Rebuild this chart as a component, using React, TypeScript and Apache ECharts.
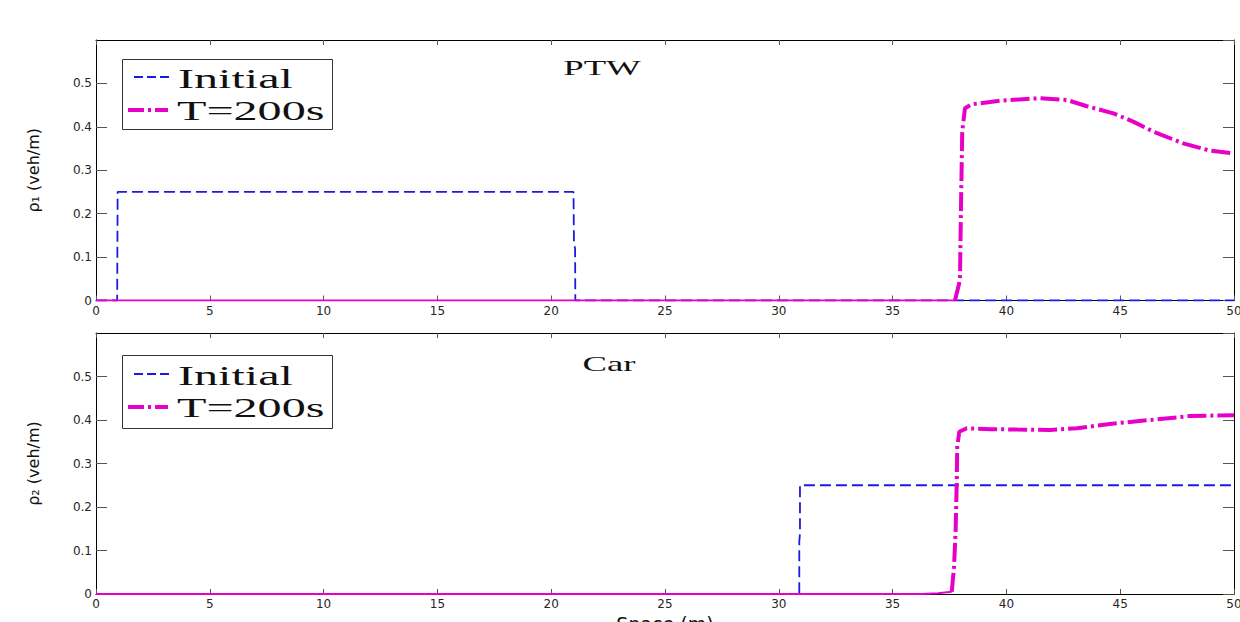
import React, { useEffect, useRef } from "react";
import * as echarts from "echarts";

// ---- data (x in m, density in veh/m) ----
const ptwInitialX = [0, 0.93, 0.94, 0.95, 20.98, 21.0, 21.05, 21.06, 50];
const ptwInitialY = [0, 0, 0.12, 0.25, 0.25, 0.13, 0.12, 0, 0];

const ptwFinalZeroX = [0, 37.74];
const ptwFinalZeroY = [0, 0];
const ptwFinalX = [37.74, 37.96, 38.0, 38.06, 38.18, 38.47, 39.72, 41.48, 42.65, 43.5, 44.7, 45.57, 46.45, 47.77, 48.95, 50];
const ptwFinalY = [0, 0.047, 0.2, 0.39, 0.443, 0.452, 0.46, 0.466, 0.462, 0.448, 0.431, 0.412, 0.389, 0.362, 0.345, 0.339];

const carInitialX = [0, 30.9, 30.9, 30.93, 30.93, 50];
const carInitialY = [0, 0, 0.12, 0.14, 0.25, 0.25];

const carFinalZeroX = [0, 36.3, 37.0, 37.6];
const carFinalZeroY = [0, 0, 0.002, 0.005];
const carFinalX = [37.6, 37.7, 37.77, 37.82, 37.84, 37.93, 38.26, 39.3, 40.45, 41.9, 43.1, 44.55, 46.3, 48.07, 50];
const carFinalY = [0.005, 0.063, 0.147, 0.262, 0.339, 0.373, 0.381, 0.379, 0.378, 0.377, 0.381, 0.391, 0.4, 0.409, 0.411];

const seriesNames = ["Initial", "T=200s"];
const panelTitles = ["PTW", "Car"];
const yNames = ["ρ₁ (veh/m)", "ρ₂ (veh/m)"];
const xName = "Space (m)";

const zip = (xs: number[], ys: number[]) => xs.map((x, i) => [x, ys[i]]);

const W = 1240;
const H = 622;
const BLUE = "#1a1ae6";
const MAGENTA = "#e800c8";

export default function App() {
  const ref = useRef<HTMLDivElement>(null);

  useEffect(() => {
    if (!ref.current) return;
    const chart = echarts.init(ref.current, null, { renderer: "svg" });

    const grids = [
      { left: 96, right: 6, top: 40, height: 260.5, outerBoundsMode: "none", containLabel: false },
      { left: 96, right: 6, top: 333, height: 261, outerBoundsMode: "none", containLabel: false },
    ];

    const labelFont = { fontFamily: "DejaVu Sans, sans-serif", fontSize: 12, color: "#262626" };
    const nameFont = { fontFamily: "DejaVu Sans, sans-serif", color: "#111" };

    const xAxes: any[] = [];
    const yAxes: any[] = [];
    [0, 1].forEach((g) => {
      const common = { type: "value", gridIndex: g, splitLine: { show: false } };
      xAxes.push({
        ...common,
        position: "bottom",
        min: 0,
        max: 50,
        interval: 5,
        axisLine: { show: true, onZero: false, lineStyle: { color: "#000", width: 1 } },
        axisTick: { show: true, inside: true, length: 5, lineStyle: { color: "#555" } },
        axisLabel: { ...labelFont, margin: 4 },
        name: g === 1 ? xName : "",
        nameLocation: "middle",
        nameGap: 20,
        nameTextStyle: { ...nameFont, fontSize: 19 },
      });
      xAxes.push({
        ...common,
        position: "top",
        min: 0,
        max: 50,
        interval: 5,
        axisLine: { show: true, onZero: false, lineStyle: { color: "#000", width: 1 } },
        axisTick: { show: true, inside: true, length: 5, lineStyle: { color: "#555" } },
        axisLabel: { show: false },
      });
      yAxes.push({
        ...common,
        position: "left",
        min: 0,
        max: 0.6,
        interval: 0.1,
        axisLine: { show: true, onZero: false, lineStyle: { color: "#000", width: 1 } },
        axisTick: { show: true, inside: true, length: 11, lineStyle: { color: "#555" } },
        axisLabel: { ...labelFont, margin: 4, showMaxLabel: false },
        name: yNames[g],
        nameLocation: "middle",
        nameRotate: 90,
        nameGap: 55,
        nameTextStyle: { ...nameFont, fontSize: 16 },
      });
      yAxes.push({
        ...common,
        position: "right",
        min: 0,
        max: 0.6,
        interval: 0.1,
        axisLine: { show: true, onZero: false, lineStyle: { color: "#000", width: 1 } },
        axisTick: { show: true, inside: true, length: 11, lineStyle: { color: "#555" } },
        axisLabel: { show: false },
      });
    });

    const initialDash = [11, 5];
    const finalDash = [19, 4, 3, 4];
    const initialStyle = { color: BLUE, width: 1.8, type: initialDash, cap: "butt" };
    const finalStyle = { color: MAGENTA, width: 4, type: finalDash, cap: "butt" };
    const zeroStyle = { color: MAGENTA, width: 2, type: "solid" };

    const panels = [
      { init: zip(ptwInitialX, ptwInitialY), fin: zip(ptwFinalX, ptwFinalY), zero: zip(ptwFinalZeroX, ptwFinalZeroY) },
      { init: zip(carInitialX, carInitialY), fin: zip(carFinalX, carFinalY), zero: zip(carFinalZeroX, carFinalZeroY) },
    ];

    const series: any[] = [];
    panels.forEach((p, g) => {
      series.push({
        name: seriesNames[0],
        type: "line",
        xAxisIndex: g * 2,
        yAxisIndex: g * 2,
        data: p.init,
        symbol: "none",
        lineStyle: initialStyle,
        itemStyle: { color: BLUE },
      });
      series.push({
        name: seriesNames[1],
        type: "line",
        xAxisIndex: g * 2,
        yAxisIndex: g * 2,
        data: p.fin,
        symbol: "none",
        lineStyle: finalStyle,
        itemStyle: { color: MAGENTA },
      });
      series.push({
        name: seriesNames[1] + " ",
        type: "line",
        xAxisIndex: g * 2,
        yAxisIndex: g * 2,
        data: p.zero,
        symbol: "none",
        lineStyle: zeroStyle,
        itemStyle: { color: MAGENTA },
      });
    });

    const serifText = (text: string, x: number, y: number, size: number, sx: number, align: string) => ({
      type: "text",
      x,
      y,
      scaleX: sx,
      style: {
        text,
        fontFamily: "Liberation Serif, DejaVu Serif, serif",
        fontSize: size,
        fill: "#111",
        align,
        verticalAlign: "middle",
      },
      z: 20,
    });

    const legendBox = (top: number, bottom: number, y1: number, y2: number) => [
      {
        type: "rect",
        shape: { x: 122.5, y: top + 0.5, width: 210, height: bottom - top },
        style: { fill: "#fff", stroke: "#333", lineWidth: 1 },
        z: 15,
      },
      {
        type: "line",
        shape: { x1: 134, y1: y1, x2: 173, y2: y1 },
        style: { stroke: BLUE, lineWidth: 1.8, lineDash: [9, 4] },
        z: 20,
      },
      {
        type: "line",
        shape: { x1: 128, y1: y2, x2: 168, y2: y2 },
        style: { stroke: MAGENTA, lineWidth: 4, lineDash: [16, 4, 3, 4] },
        z: 20,
      },
      serifText(seriesNames[0], 178, y1 + 2, 28, 1.72, "left"),
      serifText(seriesNames[1], 177, y2 + 1, 28, 1.72, "left"),
    ];

    chart.setOption({
      animation: false,
      backgroundColor: "#fff",
      grid: grids,
      xAxis: xAxes,
      yAxis: yAxes,
      graphic: [
        ...legendBox(59, 129, 77, 110),
        ...legendBox(355, 428, 374, 407),
        serifText(panelTitles[0], 602, 68, 21, 1.75, "center"),
        serifText(panelTitles[1], 609, 364, 21, 1.75, "center"),
      ],
      series,
    });

    return () => chart.dispose();
  }, []);

  return (
    <div style={{ position: "absolute", left: 0, top: 0, width: W, height: H, overflow: "hidden", background: "#fff" }}>
      <div ref={ref} style={{ width: W, height: H }} />
    </div>
  );
}
